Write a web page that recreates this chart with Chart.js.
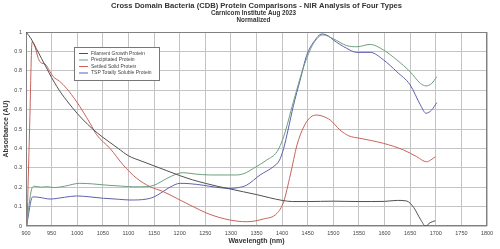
<!DOCTYPE html>
<html>
<head>
<meta charset="utf-8">
<style>
  html, body { margin: 0; padding: 0; background: #fff; }
</style>
<script src="https://cdn.jsdelivr.net/npm/chart.js"></script>
</head>
<body>
<canvas id="nir-chart" width="500" height="249"></canvas>
<script>
const titleText = "Cross Domain Bacteria (CDB) Protein Comparisons - NIR Analysis of Four Types";
const subtitleLines = ["Carnicom Institute Aug 2023", "Normalized"];

const seriesNames = [
  "Filament Growth Protein",
  "Precipitated Protein",
  "Settled Solid Protein",
  "TSP Totally Soluble Protein",
];
const seriesColors = ["#505050", "#6f9d7f", "#c8625a", "#5d60ad"];

const filamentNm = [900, 910, 920, 930, 940, 950, 960, 970, 980, 1000, 1020, 1040, 1060, 1080, 1100, 1125, 1150, 1175, 1200, 1225, 1250, 1275, 1300, 1325, 1350, 1375, 1400, 1420, 1450, 1500, 1550, 1600, 1625, 1643, 1657, 1670, 1680, 1689, 1699];
const filamentVal = [1.0, 0.965, 0.915, 0.865, 0.815, 0.765, 0.72, 0.68, 0.645, 0.58, 0.525, 0.478, 0.438, 0.4, 0.362, 0.335, 0.31, 0.285, 0.26, 0.238, 0.22, 0.204, 0.19, 0.176, 0.162, 0.146, 0.132, 0.126, 0.126, 0.128, 0.126, 0.127, 0.132, 0.129, 0.095, 0.035, 0.0, 0.017, 0.027];

const precipNm = [901, 911, 916, 930, 940, 955, 975, 1005, 1030, 1060, 1084, 1110, 1136, 1150, 1175, 1194, 1207, 1230, 1260, 1311, 1330, 1344, 1370, 1390, 1403, 1422, 1442, 1461, 1480, 1500, 1526, 1546, 1572, 1598, 1624, 1650, 1670, 1681, 1692, 1702];
const precipVal = [0.0, 0.19, 0.205, 0.2, 0.203, 0.198, 0.205, 0.22, 0.217, 0.21, 0.206, 0.202, 0.203, 0.21, 0.245, 0.268, 0.275, 0.268, 0.263, 0.263, 0.275, 0.297, 0.34, 0.383, 0.46, 0.64, 0.82, 0.94, 0.985, 0.965, 0.93, 0.924, 0.936, 0.907, 0.856, 0.795, 0.735, 0.722, 0.735, 0.77];

const settledNm = [902, 907, 912, 918, 924, 930, 937, 947, 953, 966, 979, 999, 1025, 1038, 1064, 1090, 1116, 1142, 1168, 1194, 1220, 1259, 1298, 1331, 1363, 1390, 1403, 1416, 1429, 1442, 1455, 1468, 1480, 1494, 1513, 1530, 1552, 1575, 1598, 1637, 1663, 1682, 1690, 1699];
const settledVal = [0.0, 0.5, 0.95, 0.92, 0.864, 0.84, 0.835, 0.795, 0.77, 0.745, 0.71, 0.64, 0.53, 0.47, 0.4, 0.314, 0.246, 0.203, 0.177, 0.143, 0.108, 0.06, 0.031, 0.022, 0.036, 0.065, 0.125, 0.263, 0.417, 0.51, 0.56, 0.572, 0.565, 0.546, 0.495, 0.465, 0.452, 0.44, 0.426, 0.392, 0.357, 0.331, 0.34, 0.357];

const solubleNm = [901, 913, 925, 947, 975, 999, 1025, 1051, 1080, 1103, 1136, 1150, 1162, 1181, 1201, 1220, 1246, 1270, 1298, 1315, 1331, 1357, 1383, 1395, 1403, 1412, 1422, 1435, 1448, 1462, 1478, 1490, 1500, 1526, 1546, 1572, 1598, 1624, 1650, 1670, 1681, 1692, 1702];
const solubleVal = [0.0, 0.15, 0.148, 0.139, 0.148, 0.155, 0.15, 0.143, 0.138, 0.134, 0.139, 0.15, 0.168, 0.2, 0.22, 0.218, 0.21, 0.2, 0.194, 0.198, 0.211, 0.263, 0.306, 0.34, 0.4, 0.5, 0.62, 0.75, 0.88, 0.95, 0.99, 0.98, 0.959, 0.916, 0.895, 0.895, 0.856, 0.795, 0.727, 0.624, 0.581, 0.598, 0.636];

const xTickMin = 900, xTickMax = 1800, xTickStep = 50;
const yTickMin = 0, yTickMax = 1, yTickStep = 0.1;

const FONT = "'Liberation Sans', Arial, sans-serif";

function toPoints(xs, ys) {
  return xs.map((x, i) => ({ x: x, y: ys[i] }));
}

const seriesData = [
  toPoints(filamentNm, filamentVal),
  toPoints(precipNm, precipVal),
  toPoints(settledNm, settledVal),
  toPoints(solubleNm, solubleVal),
];

// titles drawn centred over the plot area
const titlePlugin = {
  id: "titles",
  afterDraw(chart) {
    const c = chart.ctx;
    const area = chart.chartArea;
    const cx = (area.left + area.right) / 2;
    c.save();
    c.fillStyle = "#333";
    c.textAlign = "center";
    c.textBaseline = "middle";
    c.font = "bold 7.6px " + FONT;
    c.fillText(titleText, cx, 5.5);
    c.font = "bold 6.3px " + FONT;
    c.fillText(subtitleLines[0], cx - 3, 13.3);
    c.fillText(subtitleLines[1], cx - 3, 20.7);
    c.restore();
  },
};

// dark frame round the plot
const framePlugin = {
  id: "frame",
  beforeDatasetsDraw(chart) {
    const c = chart.ctx;
    const a = chart.chartArea;
    c.save();
    c.strokeStyle = "#808080";
    c.lineWidth = 1;
    c.strokeRect(a.left + 0.5, a.top + 0.5, a.right - a.left - 1, a.bottom - a.top - 1);
    c.restore();
  },
};

// boxed legend inside the plot
const boxLegendPlugin = {
  id: "boxLegend",
  afterDatasetsDraw(chart) {
    const c = chart.ctx;
    const a = chart.chartArea;
    const x = a.left + 48, y = a.top + 15, w = 85, h = 33;
    c.save();
    c.fillStyle = "#fff";
    c.fillRect(x, y, w, h);
    c.strokeStyle = "#777";
    c.lineWidth = 1;
    c.strokeRect(x + 0.5, y + 0.5, w, h);
    c.font = "5px " + FONT;
    c.textBaseline = "middle";
    chart.data.datasets.forEach((ds, i) => {
      const ry = y + 6.5 + i * 6.5;
      c.strokeStyle = ds.borderColor;
      c.beginPath();
      c.moveTo(x + 5, ry);
      c.lineTo(x + 14, ry);
      c.stroke();
      c.fillStyle = "#444";
      c.fillText(ds.label, x + 17, ry);
    });
    c.restore();
  },
};

const ctx = document.getElementById("nir-chart").getContext("2d");

const nirChart = new Chart(ctx, {
  type: "line",
  data: {
    datasets: seriesNames.map((name, i) => ({
      label: name,
      data: seriesData[i],
      borderColor: seriesColors[i],
      backgroundColor: seriesColors[i],
      borderWidth: 1,
      pointRadius: 0,
      cubicInterpolationMode: "monotone",
      fill: false,
    })),
  },
  options: {
    responsive: false,
    animation: false,
    layout: { padding: { top: 32, right: 13, left: 0, bottom: 0 } },
    plugins: {
      legend: { display: false },
      tooltip: { enabled: false },
    },
    scales: {
      x: {
        type: "linear",
        min: xTickMin,
        max: xTickMax,
        afterFit: (s) => { s.height = 23; },
        ticks: {
          stepSize: xTickStep,
          color: "#444",
          font: { family: FONT, size: 5.5 },
          padding: 4,
          maxRotation: 0,
          callback: (v) => String(v),
        },
        grid: { color: "#c4c4c4", lineWidth: 1, drawTicks: false },
        border: { display: false },
        title: {
          display: true,
          text: "Wavelength (nm)",
          color: "#333",
          font: { family: FONT, size: 7, weight: "bold" },
          padding: { top: 0, bottom: 4 },
        },
      },
      y: {
        min: yTickMin,
        max: yTickMax,
        afterFit: (s) => { s.width = 26; },
        ticks: {
          stepSize: yTickStep,
          color: "#444",
          font: { family: FONT, size: 5.5 },
          padding: 4,
          callback: (v) => String(Math.round(v * 10) / 10),
        },
        grid: { color: "#c4c4c4", lineWidth: 1, drawTicks: false },
        border: { display: false },
        title: {
          display: true,
          text: "Absorbance (AU)",
          color: "#333",
          font: { family: FONT, size: 7, weight: "bold" },
          padding: { top: 2, bottom: 0 },
        },
      },
    },
  },
  plugins: [framePlugin, boxLegendPlugin, titlePlugin],
});
</script>
</body>
</html>
